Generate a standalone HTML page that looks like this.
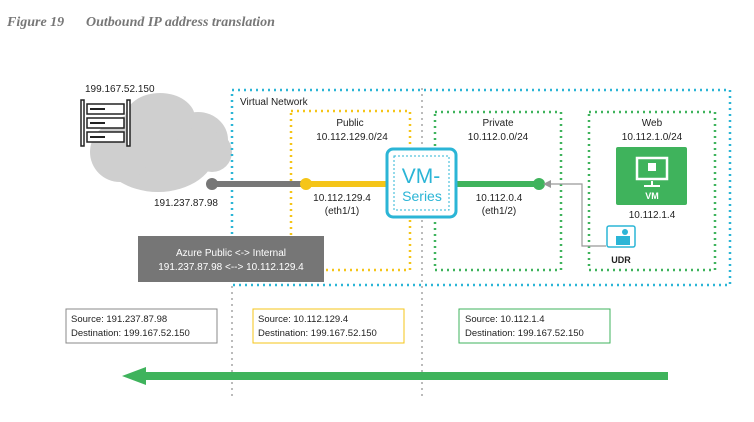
<!DOCTYPE html>
<html><head><style>
body{margin:0;background:#fff;width:754px;height:417px;overflow:hidden}
text{font-family:"Liberation Sans",sans-serif;fill:#222}
</style></head><body>
<svg width="754" height="417" viewBox="0 0 754 417" xmlns="http://www.w3.org/2000/svg">
<text x="7" y="26" style="font-family:'Liberation Serif',serif;font-style:italic;font-weight:bold;font-size:14px;fill:#777">Figure 19</text>
<text x="86" y="26" style="font-family:'Liberation Serif',serif;font-style:italic;font-weight:bold;font-size:14px;fill:#777">Outbound IP address translation</text>
<line x1="232" y1="280" x2="232" y2="400" stroke="#bbb" stroke-width="2" stroke-dasharray="2,4"/>
<line x1="422" y1="88" x2="422" y2="400" stroke="#bbb" stroke-width="2" stroke-dasharray="2,4"/>
<g fill="#cfcfcf">
<ellipse cx="158" cy="150" rx="58" ry="42"/>
<ellipse cx="198" cy="140" rx="30" ry="28"/>
<ellipse cx="212" cy="152" rx="20" ry="20"/>
<ellipse cx="120" cy="152" rx="30" ry="30"/>
<ellipse cx="160" cy="118" rx="35" ry="25"/>
</g>
<g stroke="#222" fill="#fff" stroke-width="1.5">
<rect x="81" y="100" width="3" height="46"/><rect x="127" y="100" width="3" height="46"/>
<rect x="87" y="104" width="37" height="10"/><rect x="87" y="118" width="37" height="10"/><rect x="87" y="132" width="37" height="10"/>
</g>
<g stroke="#222" stroke-width="2"><line x1="90" y1="109" x2="105" y2="109"/><line x1="90" y1="123" x2="105" y2="123"/><line x1="90" y1="137" x2="105" y2="137"/></g>
<text x="85" y="92" font-size="10">199.167.52.150</text>
<rect x="232" y="90" width="498" height="195" fill="none" stroke="#2bb5d6" stroke-width="2.5" stroke-dasharray="2,4"/>
<text x="240" y="105" font-size="10">Virtual Network</text>
<rect x="291" y="111" width="119" height="159" fill="none" stroke="#f5c518" stroke-width="2.5" stroke-dasharray="2,4"/>
<text x="350" y="126" font-size="10" text-anchor="middle">Public</text>
<text x="352" y="140" font-size="10" text-anchor="middle">10.112.129.0/24</text>
<rect x="435" y="112" width="126" height="158" fill="none" stroke="#3fb35c" stroke-width="2.5" stroke-dasharray="2,4"/>
<text x="498" y="126" font-size="10" text-anchor="middle">Private</text>
<text x="498" y="140" font-size="10" text-anchor="middle">10.112.0.0/24</text>
<rect x="589" y="112" width="126" height="158" fill="none" stroke="#3fb35c" stroke-width="2.5" stroke-dasharray="2,4"/>
<text x="652" y="126" font-size="10" text-anchor="middle">Web</text>
<text x="652" y="140" font-size="10" text-anchor="middle">10.112.1.0/24</text>
<line x1="212" y1="184" x2="305" y2="184" stroke="#777" stroke-width="6"/>
<circle cx="212" cy="184" r="6" fill="#777"/>
<line x1="305" y1="184" x2="388" y2="184" stroke="#f5c518" stroke-width="6"/>
<circle cx="306" cy="184" r="6" fill="#f5c518"/>
<line x1="455" y1="184" x2="539" y2="184" stroke="#3fb35c" stroke-width="6"/>
<circle cx="539" cy="184" r="6" fill="#3fb35c"/>
<text x="154" y="206" font-size="10">191.237.87.98</text>
<text x="342" y="201" font-size="10" text-anchor="middle">10.112.129.4</text>
<text x="342" y="214" font-size="10" text-anchor="middle">(eth1/1)</text>
<text x="499" y="201" font-size="10" text-anchor="middle">10.112.0.4</text>
<text x="499" y="214" font-size="10" text-anchor="middle">(eth1/2)</text>
<rect x="387" y="149" width="69" height="68" rx="6" fill="#fff" stroke="#2bb5d6" stroke-width="3"/>
<rect x="394" y="156" width="55" height="54" fill="none" stroke="#2bb5d6" stroke-width="1" stroke-dasharray="2,2"/>
<text x="421" y="183" font-size="21" text-anchor="middle" style="fill:#2bb5d6">VM-</text>
<text x="422" y="201" font-size="14" text-anchor="middle" style="fill:#2bb5d6">Series</text>
<polyline points="606,246 582,246 582,184 547,184" fill="none" stroke="#999" stroke-width="1.2"/>
<polygon points="543,184 551,180 551,188" fill="#999"/>
<rect x="607" y="226" width="28" height="21" rx="2" fill="#fff" stroke="#2bb5d6" stroke-width="1.5"/>
<rect x="616" y="236" width="14" height="9" fill="#2bb5d6"/><circle cx="625" cy="232" r="3" fill="#2bb5d6"/>
<text x="621" y="263" font-size="9" text-anchor="middle" font-weight="bold">UDR</text>
<rect x="616" y="147" width="71" height="58" rx="2" fill="#3fb35c"/>
<rect x="637" y="158" width="30" height="21" fill="none" stroke="#fff" stroke-width="2.5"/>
<rect x="648" y="163" width="8" height="8" fill="#fff"/>
<line x1="652" y1="181" x2="652" y2="185" stroke="#fff" stroke-width="2"/>
<line x1="644" y1="186" x2="660" y2="186" stroke="#fff" stroke-width="2"/>
<text x="652" y="199" font-size="9" text-anchor="middle" font-weight="bold" style="fill:#fff">VM</text>
<text x="652" y="218" font-size="10" text-anchor="middle">10.112.1.4</text>
<rect x="138" y="236" width="186" height="46" fill="#767676"/>
<text x="231" y="256" font-size="10" text-anchor="middle" style="fill:#fff">Azure Public &lt;-&gt; Internal</text>
<text x="231" y="270" font-size="10" text-anchor="middle" style="fill:#fff">191.237.87.98 &lt;--&gt; 10.112.129.4</text>
<rect x="66" y="309" width="151" height="34" fill="#fff" stroke="#888"/>
<text x="71" y="322" font-size="9.5">Source: 191.237.87.98</text>
<text x="71" y="336" font-size="9.5">Destination: 199.167.52.150</text>
<rect x="253" y="309" width="151" height="34" fill="#fff" stroke="#f5c518"/>
<text x="258" y="322" font-size="9.5">Source: 10.112.129.4</text>
<text x="258" y="336" font-size="9.5">Destination: 199.167.52.150</text>
<rect x="459" y="309" width="151" height="34" fill="#fff" stroke="#3fb35c"/>
<text x="465" y="322" font-size="9.5">Source: 10.112.1.4</text>
<text x="465" y="336" font-size="9.5">Destination: 199.167.52.150</text>
<line x1="140" y1="376" x2="668" y2="376" stroke="#3fb35c" stroke-width="8"/>
<polygon points="122,376 146,367 146,385" fill="#3fb35c"/>
</svg>
</body></html>
